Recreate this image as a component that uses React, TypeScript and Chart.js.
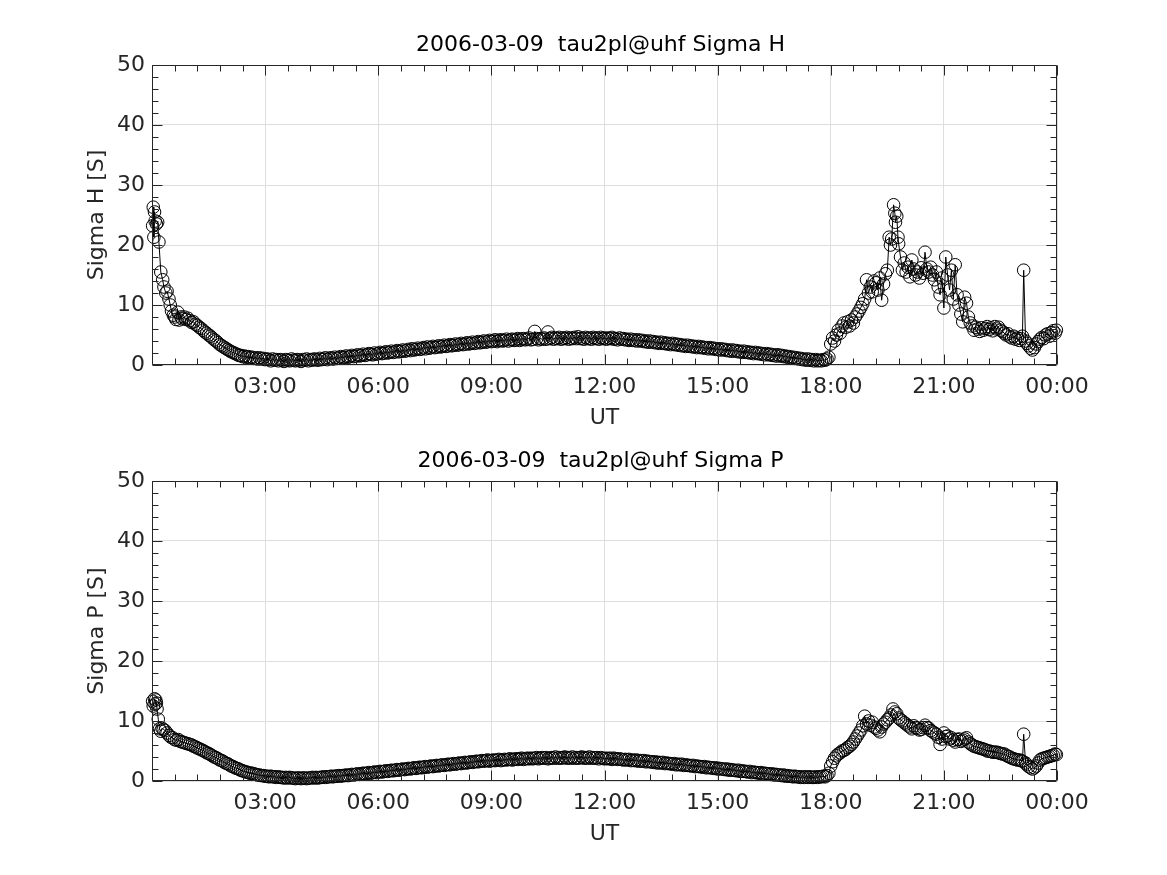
import React, { useEffect, useRef } from "react";
import { Chart, registerables } from "chart.js";

Chart.register(...registerables);

// ---- Sample times (minutes of day, UT) ----
const earlyTimesH = [1,2,3,4,5,7,9,11,14,17,19,22,24,27,29,31,34,36,38,41,43,46,48,51,54,57];
const earlyTimesP = [1,2,4,5,6,7,8,10,12,14,16,18,21,24,27,30,33,36,39,42,45,48,51,54,57];
const dayTimes = [
  60,63,66,69,72,75,78,81,84,87,90,93,96,99,102,105,108,111,114,117,
  120,123,126,129,132,135,138,141,144,147,150,153,156,159,162,165,168,171,174,177,
  180,183,186,189,192,195,198,201,204,207,210,213,216,219,222,225,228,231,234,237,
  240,243,246,249,252,255,258,261,264,267,270,273,276,279,282,285,288,291,294,297,
  300,303,306,309,312,315,318,321,324,327,330,333,336,339,342,345,348,351,354,357,
  360,363,366,369,372,375,378,381,384,387,390,393,396,399,402,405,408,411,414,417,
  420,423,426,429,432,435,438,441,444,447,450,453,456,459,462,465,468,471,474,477,
  480,483,486,489,492,495,498,501,504,507,510,513,516,519,522,525,528,531,534,537,
  540,543,546,549,552,555,558,561,564,567,570,573,576,579,582,585,588,591,594,597,
  600,603,606,609,612,615,618,621,624,627,630,633,636,639,642,645,648,651,654,657,
  660,663,666,669,672,675,678,681,684,687,690,693,696,699,702,705,708,711,714,717,
  720,723,726,729,732,735,738,741,744,747,750,753,756,759,762,765,768,771,774,777,
  780,783,786,789,792,795,798,801,804,807,810,813,816,819,822,825,828,831,834,837,
  840,843,846,849,852,855,858,861,864,867,870,873,876,879,882,885,888,891,894,897,
  900,903,906,909,912,915,918,921,924,927,930,933,936,939,942,945,948,951,954,957,
  960,963,966,969,972,975,978,981,984,987,990,993,996,999,1002,1005,1008,1011,1014,1017,
  1020,1023,1026,1029,1032,1035,1038,1041,1044,1047,1050,1053,1056,1059,1062,1065,1068,1071,1074,1077,
];
const eveningTimesH = [
  1080,1083,1086,1089,1092,1095,1098,1101,1104,1107,1110,1113,1116,1119,1122,1125,1128,1131,1134,1137,
  1140,1143,1146,1149,1152,1155,1158,1161,1164,1167,1170,1173,1175,1177,1180,1182,1183,1185,1187,1188,
  1191,1194,1197,1200,1203,1206,1209,1212,1215,1218,1221,1224,1227,1230,1233,1236,1239,1242,1245,1248,
  1251,1254,1257,1260,1263,1266,1269,1272,1275,1278,1281,1284,1287,1290,1293,1296,1299,1302,1305,
];
const eveningTimesP = [
  1080,1083,1086,1089,1092,1095,1098,1101,1104,1107,1110,1113,1116,1119,1122,1125,1128,1131,1134,1137,
  1140,1143,1146,1149,1152,1155,1158,1161,1164,1167,1170,1173,1176,1179,1182,1185,1188,1191,1194,1197,
  1200,1203,1206,1209,1212,1215,1218,1221,1224,1227,1230,1233,1236,1239,1242,1245,1248,1251,1254,1257,
  1260,1263,1266,1269,1272,1275,1278,1281,1284,1287,1290,1293,1296,1299,1302,1305,
];
const lateTimes = [
  1308,1311,1314,1317,1320,1323,1326,1329,1332,1335,1338,1341,1344,1347,1350,1353,1356,1359,1362,1365,
  1368,1371,1374,1377,1380,1383,1385,1387,1390,1392,1395,1398,1401,1404,1407,1410,1413,1416,1419,1422,
  1425,1428,1431,1434,1437,1439,
];

// ---- Sigma H [S] ----
const earlySigmaH = [23.2,26.3,21.3,25.5,24.0,23.5,23.8,20.5,15.5,14.2,13.0,12.0,12.3,11.0,10.0,9.0,8.3,8.0,7.6,8.8,7.5,8.0,7.7,8.0,7.6,7.8];
const daySigmaH = [
  7.4,7.1,7.2,6.8,6.6,6.3,6.1,5.8,5.5,5.3,5.0,4.8,4.5,4.2,4.0,3.7,3.4,3.2,3.0,2.8,
  2.6,2.4,2.2,2.1,1.9,1.8,1.6,1.6,1.4,1.5,1.3,1.4,1.2,1.3,1.1,1.2,1.0,1.2,1.0,1.1,
  0.9,1.0,0.9,0.7,1.0,0.8,0.9,0.7,0.9,0.8,0.6,0.9,0.8,0.7,1.0,0.8,0.7,0.9,0.8,0.6,
  0.9,0.8,1.0,0.7,0.9,0.8,1.0,0.9,0.8,1.1,0.9,1.0,1.2,0.9,1.1,1.2,1.0,1.3,1.1,1.2,
  1.4,1.2,1.3,1.5,1.3,1.4,1.6,1.4,1.5,1.7,1.5,1.6,1.8,1.6,1.7,1.9,1.8,1.7,2.0,1.8,
  1.9,2.1,1.9,2.0,2.2,2.0,2.1,2.3,2.1,2.2,2.4,2.2,2.3,2.5,2.3,2.4,2.6,2.4,2.7,2.5,
  2.6,2.8,2.6,2.7,2.9,2.7,3.0,2.8,2.9,3.1,2.9,3.0,3.2,3.0,3.1,3.3,3.1,3.2,3.4,3.2,
  3.3,3.5,3.3,3.4,3.6,3.4,3.5,3.7,3.5,3.6,3.8,3.6,3.7,3.9,3.7,3.8,4.0,3.8,3.9,4.1,
  3.9,4.0,4.2,3.9,4.1,4.2,4.0,4.1,4.3,4.0,4.2,4.3,4.1,4.2,4.4,4.1,4.3,4.4,4.2,4.3,
  4.5,4.2,4.3,5.6,4.4,4.2,4.4,4.3,4.5,4.3,5.5,4.4,4.6,4.3,4.5,4.4,4.6,4.3,4.5,4.4,
  4.6,4.3,4.5,4.4,4.6,4.4,4.7,4.4,4.5,4.3,4.6,4.4,4.5,4.3,4.6,4.4,4.5,4.3,4.6,4.4,
  4.5,4.3,4.5,4.4,4.6,4.3,4.4,4.2,4.5,4.3,4.4,4.2,4.3,4.1,4.3,4.1,4.2,4.0,4.2,4.0,
  4.1,3.9,4.0,3.8,4.0,3.8,3.9,3.7,3.8,3.6,3.8,3.6,3.7,3.5,3.6,3.4,3.6,3.4,3.5,3.3,
  3.4,3.2,3.3,3.1,3.3,3.1,3.2,3.0,3.1,2.9,3.1,2.9,3.0,2.8,2.9,2.7,2.9,2.7,2.8,2.6,
  2.7,2.5,2.7,2.5,2.6,2.4,2.5,2.3,2.5,2.3,2.4,2.2,2.3,2.1,2.3,2.1,2.2,2.0,2.1,1.9,
  2.1,1.9,2.0,1.8,1.9,1.7,1.9,1.7,1.8,1.6,1.7,1.5,1.7,1.5,1.6,1.4,1.5,1.3,1.4,1.2,
  1.3,1.1,1.2,1.0,1.1,0.9,1.0,0.8,1.0,0.8,0.9,0.7,0.9,0.7,0.8,0.7,0.9,0.8,1.0,1.3,
];
const eveningSigmaH = [
  3.5,4.5,4.0,5.0,5.8,5.3,6.5,7.0,6.3,7.2,6.5,7.5,7.0,8.0,8.5,9.0,9.6,10.2,11.0,14.2,
  12.0,13.0,12.2,14.0,13.7,12.5,14.5,10.8,13.5,15.2,15.8,21.3,20.0,21.0,26.7,25.3,23.8,24.8,21.3,20.2,
  18.0,15.8,17.0,15.5,16.3,14.7,17.5,16.0,15.0,15.5,14.5,16.2,15.3,18.8,16.0,15.5,16.3,15.0,14.2,15.5,
  13.0,11.7,14.5,9.5,18.0,15.0,12.5,15.8,11.0,16.7,11.7,10.0,8.5,7.2,11.3,10.3,8.0,7.0,6.5,
];
const lateSigmaH = [
  5.8,6.3,6.0,5.6,6.2,5.8,6.1,6.4,5.9,6.2,5.7,6.4,6.0,6.3,5.8,5.6,5.3,5.0,5.2,4.7,
  4.5,4.8,4.3,4.5,4.1,4.4,4.8,15.8,4.0,3.6,3.2,2.8,2.5,2.9,3.5,3.9,4.3,4.6,4.4,5.0,
  5.2,4.8,5.4,5.7,5.3,5.8,
];

// ---- Sigma P [S] ----
const earlySigmaP = [13.3,12.5,13.7,12.8,13.5,13.0,12.0,10.3,8.7,8.3,8.8,8.6,8.4,8.0,7.6,7.3,7.2,6.9,6.8,6.9,6.6,6.5,6.4,6.3,6.2];
const daySigmaP = [
  6.1,6.0,5.8,5.7,5.5,5.4,5.2,5.1,4.9,4.7,4.6,4.4,4.2,4.0,3.9,3.7,3.5,3.4,3.2,3.0,
  2.9,2.7,2.5,2.4,2.2,2.1,2.0,1.8,1.7,1.6,1.5,1.4,1.3,1.3,1.2,1.1,1.0,1.0,0.9,0.9,
  0.8,0.8,0.7,0.8,0.7,0.7,0.6,0.7,0.6,0.6,0.5,0.6,0.5,0.6,0.5,0.5,0.4,0.5,0.5,0.4,
  0.5,0.5,0.4,0.5,0.5,0.6,0.5,0.6,0.5,0.6,0.6,0.7,0.6,0.7,0.7,0.8,0.7,0.8,0.8,0.9,
  0.8,0.9,0.9,1.0,0.9,1.0,1.1,1.0,1.1,1.2,1.1,1.2,1.3,1.2,1.3,1.4,1.3,1.4,1.5,1.4,
  1.5,1.6,1.5,1.6,1.7,1.6,1.7,1.8,1.7,1.8,1.9,1.8,1.9,2.0,1.9,2.0,2.1,2.0,2.1,2.2,
  2.1,2.2,2.3,2.2,2.3,2.4,2.3,2.4,2.5,2.4,2.5,2.6,2.5,2.6,2.7,2.6,2.7,2.8,2.7,2.8,
  2.9,2.8,2.9,3.0,2.9,3.0,3.1,3.0,3.1,3.2,3.1,3.2,3.3,3.2,3.3,3.4,3.3,3.4,3.5,3.3,
  3.4,3.5,3.4,3.5,3.6,3.4,3.5,3.6,3.5,3.6,3.7,3.5,3.6,3.7,3.6,3.7,3.8,3.6,3.7,3.8,
  3.7,3.8,3.7,3.8,3.9,3.7,3.8,3.9,3.8,3.9,3.7,3.8,3.9,3.8,4.0,3.8,3.9,3.8,3.9,4.0,
  3.8,3.9,3.8,4.0,3.8,3.9,3.8,3.9,4.0,3.8,3.9,3.8,4.0,3.8,3.9,3.8,3.9,3.7,3.9,3.8,
  3.7,3.8,3.7,3.8,3.6,3.8,3.7,3.6,3.7,3.6,3.5,3.6,3.5,3.6,3.4,3.5,3.4,3.5,3.3,3.4,
  3.3,3.4,3.2,3.3,3.2,3.2,3.1,3.2,3.0,3.1,3.0,3.1,2.9,3.0,2.9,2.9,2.8,2.9,2.7,2.8,
  2.7,2.8,2.6,2.7,2.6,2.6,2.5,2.6,2.4,2.5,2.4,2.4,2.3,2.4,2.2,2.3,2.2,2.2,2.1,2.2,
  2.0,2.1,2.0,2.0,1.9,2.0,1.8,1.9,1.8,1.8,1.7,1.8,1.6,1.7,1.6,1.6,1.5,1.6,1.4,1.5,
  1.4,1.4,1.3,1.4,1.2,1.3,1.2,1.2,1.1,1.2,1.0,1.1,1.0,1.0,0.9,1.0,0.8,0.9,0.8,0.8,
  0.7,0.8,0.7,0.7,0.6,0.7,0.6,0.7,0.6,0.7,0.6,0.6,0.7,0.6,0.7,0.7,0.8,0.7,0.9,1.3,
];
const eveningSigmaP = [
  2.5,3.2,3.8,4.2,4.5,4.7,5.0,5.1,5.3,5.6,5.8,6.1,6.5,7.0,7.5,8.0,8.5,9.2,10.8,9.5,
  10.0,9.3,9.8,9.0,8.8,8.5,8.2,9.0,9.5,9.8,10.2,10.5,11.0,12.0,11.5,11.2,10.5,10.2,10.0,9.7,
  9.5,9.2,9.0,8.7,9.2,8.9,8.8,8.5,8.6,8.9,9.3,8.9,8.8,8.4,8.2,8.0,7.8,7.3,6.1,7.0,
  8.0,7.4,7.5,7.0,7.2,6.8,6.5,6.9,7.0,6.6,6.8,7.0,7.2,6.5,6.2,6.0,
];
const lateSigmaP = [
  5.8,5.7,5.6,5.5,5.4,5.3,5.2,5.0,5.0,4.9,4.8,4.8,4.8,4.7,4.6,4.5,4.5,4.3,4.1,4.0,
  3.8,3.7,3.6,3.5,3.5,3.4,3.3,7.8,3.0,2.7,2.4,2.2,2.0,2.2,2.5,3.0,3.5,3.7,3.8,3.9,
  4.0,4.1,4.2,4.3,4.5,4.4,
];

const timesH = [...earlyTimesH, ...dayTimes, ...eveningTimesH, ...lateTimes];
const sigmaH = [...earlySigmaH, ...daySigmaH, ...eveningSigmaH, ...lateSigmaH];
const timesP = [...earlyTimesP, ...dayTimes, ...eveningTimesP, ...lateTimes];
const sigmaP = [...earlySigmaP, ...daySigmaP, ...eveningSigmaP, ...lateSigmaP];

const titleH = "2006-03-09  tau2pl@uhf Sigma H";
const titleP = "2006-03-09  tau2pl@uhf Sigma P";
const yLabelH = "Sigma H [S]";
const yLabelP = "Sigma P [S]";
const xLabel = "UT";
const yTicks = [0, 10, 20, 30, 40, 50];
const xTickLabels = ["", "03:00", "06:00", "09:00", "12:00", "15:00", "18:00", "21:00", "00:00"];

const FONT = "'DejaVu Sans', sans-serif";
const AXIS_COLOR = "#262626";

const axesBox = {
  id: "axesBox",
  afterDatasetsDraw(chart: any, _args: any, opts: any) {
    const { ctx, chartArea: a, scales } = chart;
    const x = scales.x;
    const y = scales.y;
    const L = Math.round(a.left) + 0.5;
    const R = Math.round(a.right) - 0.5;
    const T = Math.round(a.top) + 0.5;
    const B = Math.round(a.bottom) - 0.5;
    ctx.save();
    ctx.strokeStyle = AXIS_COLOR;
    ctx.lineWidth = 1;
    ctx.beginPath();
    ctx.rect(L, T, R - L, B - T);
    ctx.stroke();
    ctx.beginPath();
    for (let m = 0; m <= 1440; m += 36) {
      const px = Math.round(x.getPixelForValue(m)) + 0.5;
      const len = m % 180 === 0 ? 10 : 6;
      ctx.moveTo(px, B);
      ctx.lineTo(px, B - len);
      ctx.moveTo(px, T);
      ctx.lineTo(px, T + len);
    }
    for (let v = 0; v <= 50; v += 2) {
      const py = Math.round(y.getPixelForValue(v)) + 0.5;
      const len = v % 10 === 0 ? 10 : 6;
      ctx.moveTo(L, py);
      ctx.lineTo(L + len, py);
      ctx.moveTo(R, py);
      ctx.lineTo(R - len, py);
    }
    ctx.stroke();
    // axes title
    ctx.fillStyle = "#000";
    ctx.font = `22px ${FONT}`;
    ctx.textAlign = "center";
    ctx.textBaseline = "middle";
    ctx.fillText(opts.text, (a.left + a.right) / 2 - 4, a.top - 20);
    ctx.restore();
  },
};

function makeConfig(times: number[], values: number[], title: string, ylabel: string) {
  const pts = times.map((t, i) => ({ x: t, y: values[i] }));
  return {
    type: "line" as const,
    data: {
      datasets: [
        {
          data: pts,
          borderColor: "#000",
          borderWidth: 1,
          pointRadius: 6.3,
          pointStyle: "circle",
          pointBorderColor: "#000",
          pointBackgroundColor: "rgba(0,0,0,0)",
          pointBorderWidth: 1,
          tension: 0,
          clip: false,
        },
      ],
    },
    options: {
      responsive: false,
      animation: false,
      events: [],
      layout: { padding: { left: 0, right: 110, top: 65, bottom: 0 } },
      plugins: {
        legend: { display: false },
        tooltip: { enabled: false },
        title: { display: false },
        axesBox: { text: title },
      },
      scales: {
        x: {
          type: "linear",
          min: 0,
          max: 1440,
          afterBuildTicks: (s: any) => {
            s.ticks = xTickLabels.map((_, i) => ({ value: i * 180 }));
          },
          ticks: {
            autoSkip: false,
            maxRotation: 0,
            padding: 9,
            color: AXIS_COLOR,
            font: { family: FONT, size: 22 },
            callback: (v: number) => xTickLabels[Math.round(v / 180)],
          },
          grid: { color: "#dedede", lineWidth: 1, drawTicks: false },
          border: { display: false },
          title: {
            display: true,
            text: xLabel,
            color: AXIS_COLOR,
            font: { family: FONT, size: 22 },
            padding: { top: 0, bottom: 6 },
          },
          afterFit: (s: any) => {
            s.height = 72;
          },
        },
        y: {
          type: "linear",
          min: 0,
          max: 50,
          afterBuildTicks: (s: any) => {
            s.ticks = yTicks.map((v) => ({ value: v }));
          },
          ticks: {
            padding: 7,
            color: AXIS_COLOR,
            font: { family: FONT, size: 22 },
          },
          grid: { color: "#dedede", lineWidth: 1, drawTicks: false },
          border: { display: false },
          title: {
            display: true,
            text: ylabel,
            color: AXIS_COLOR,
            font: { family: FONT, size: 22 },
            padding: { top: 84, bottom: 0 },
          },
          afterFit: (s: any) => {
            s.width = 152;
          },
        },
      },
    },
    plugins: [axesBox],
  };
}

function Panel({ times, values, title, ylabel, top }: any) {
  const ref = useRef<HTMLCanvasElement>(null);
  useEffect(() => {
    if (!ref.current) return;
    const chart = new Chart(ref.current, makeConfig(times, values, title, ylabel) as any);
    return () => chart.destroy();
  }, []);
  return (
    <canvas
      ref={ref}
      width={1167}
      height={437}
      style={{ position: "absolute", left: 0, top, width: 1167, height: 437 }}
    />
  );
}

export default function App() {
  return (
    <div style={{ position: "absolute", left: 0, top: 0, width: 1167, height: 875, background: "#fff" }}>
      <Panel times={timesH} values={sigmaH} title={titleH} ylabel={yLabelH} top={0} />
      <Panel times={timesP} values={sigmaP} title={titleP} ylabel={yLabelP} top={416} />
    </div>
  );
}
